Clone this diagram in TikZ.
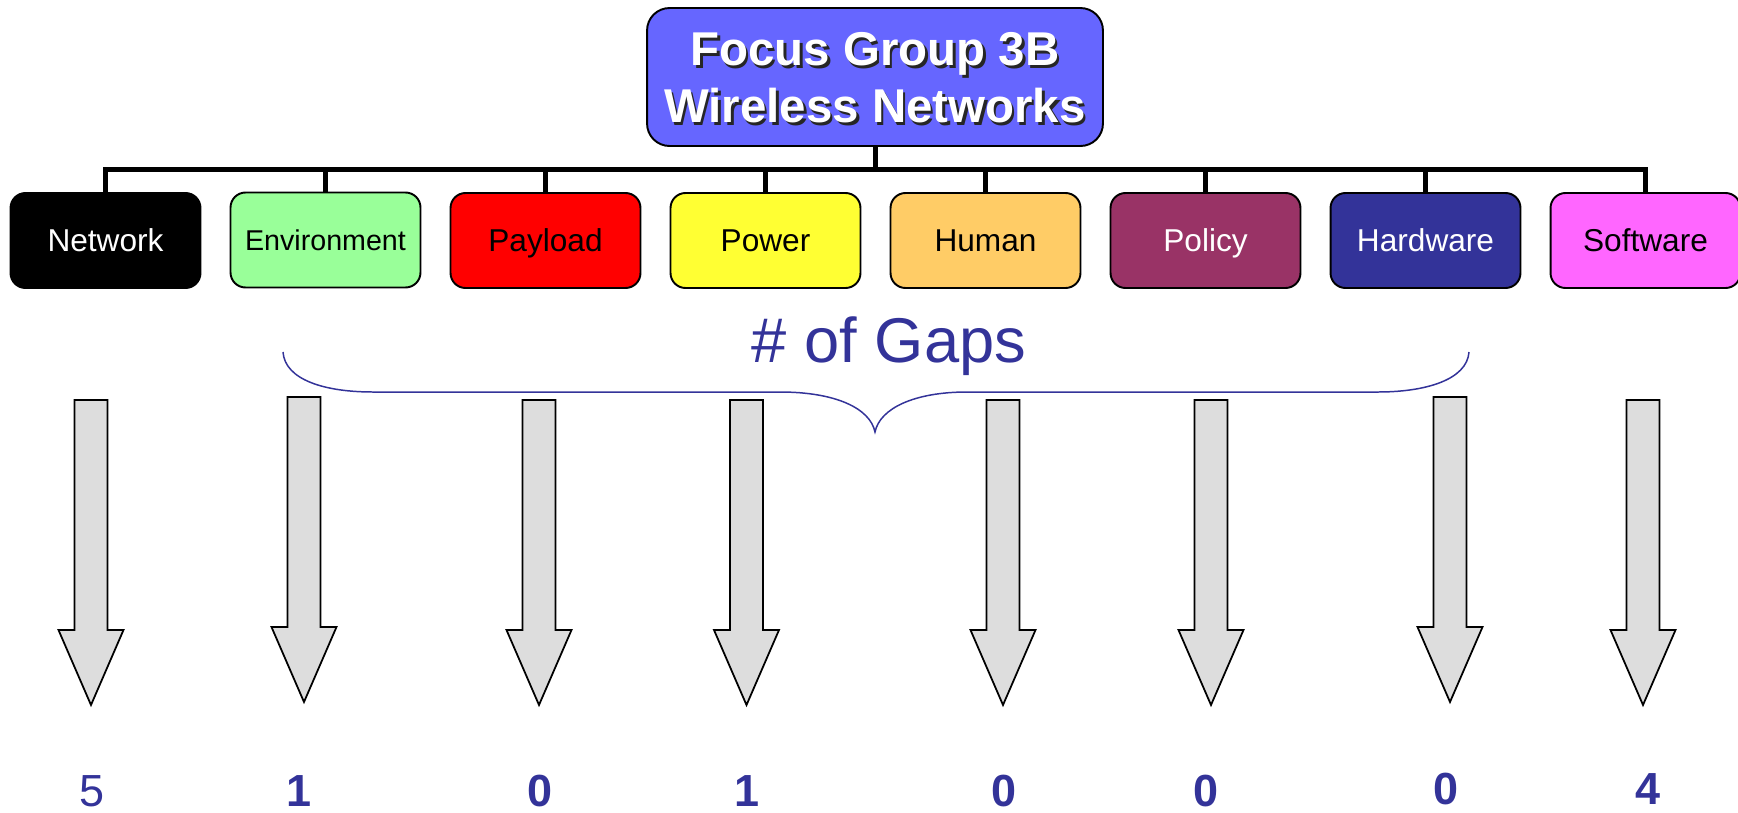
\documentclass[tikz,border=0pt]{standalone}
\usepackage{fontspec}
\setmainfont{Liberation Sans}
\definecolor{titlefill}{HTML}{6666FF}
\definecolor{envgreen}{HTML}{99FF99}
\definecolor{payred}{HTML}{FF0000}
\definecolor{powyellow}{HTML}{FFFF33}
\definecolor{humorange}{HTML}{FFCC66}
\definecolor{polplum}{HTML}{993366}
\definecolor{hardblue}{HTML}{333399}
\definecolor{softpink}{HTML}{FF66FF}
\definecolor{gapblue}{HTML}{333399}
\definecolor{arrowgray}{HTML}{DDDDDD}
\tikzset{
  cat/.style={draw=black, line width=1.1pt, rounded corners=0.3cm,
    minimum width=3.8cm, minimum height=1.9cm, inner sep=0pt,
    text height=12.9pt, text depth=0pt,
    font=\fontsize{18}{21}\selectfont},
  titlebox/.style={draw=black, line width=1.1pt, fill=titlefill,
    rounded corners=0.45cm, minimum width=9.12cm, minimum height=2.76cm, inner sep=0pt},
  titletext/.style={align=center, inner sep=0pt,
    font=\fontsize{27}{32.4}\selectfont\bfseries},
  tree/.style={line width=2.85pt, line join=miter},
  garrow/.style={draw=black, fill=arrowgray, line width=1pt, line join=miter},
  brace/.style={draw=gapblue, line width=0.85pt},
  num/.style={text=gapblue, anchor=base, inner sep=0pt,
    font=\fontsize{25.6}{30}\selectfont\bfseries},
}
\begin{document}
\begin{tikzpicture}[x=0.02cm, y=-0.02cm]
\useasboundingbox (0,0) rectangle (1738,812);

% title
\node[titlebox] (title) at (875,77) {};
\node[titletext, text=black!85] (titleshadow) at (877.5,80.5) {Focus Group 3B\\Wireless Networks};
\node[titletext, text=white] (titletxt) at (875,78) {Focus Group 3B\\Wireless Networks};

% categories
\node[cat, fill=black, text=white] (c0) at (105.5,240.5) {Network};
\node[cat, fill=envgreen, text=black, text height=11.7pt, font=\fontsize{16.3}{19}\selectfont] (c1) at (325.5,240) {Environment};
\node[cat, fill=payred, text=black] (c2) at (545.5,240.5) {Payload};
\node[cat, fill=powyellow, text=black] (c3) at (765.5,240.5) {Power};
\node[cat, fill=humorange, text=black] (c4) at (985.5,240.5) {Human};
\node[cat, fill=polplum, text=white] (c5) at (1205.5,240.5) {Policy};
\node[cat, fill=hardblue, text=white] (c6) at (1425.5,240.5) {Hardware};
\node[cat, fill=softpink, text=black] (c7) at (1645.5,240.5) {Software};

% tree connectors
\coordinate (bar) at (875,169);
\draw[tree] (title.south) -- (bar);
\foreach \i in {0,...,7} \draw[tree] (c\i.north) |- (bar);

% # of Gaps
\node[text=gapblue, anchor=base, inner sep=0pt, font=\fontsize{36}{40}\selectfont] (gaps) at (889,362) {\# of Gaps};

% brace
\coordinate (bl) at (283,352);
\coordinate (br) at (1469,352);
\coordinate (btip) at (875,432);
\draw[brace] (bl) .. controls (285,380) and (325,392) .. (373,392) -- (780,392)
  .. controls (835,392) and (870,408) .. (btip)
  .. controls (880,408) and (915,392) .. (967,392) -- (1378,392)
  .. controls (1425,392) and (1467,380) .. (br);

% block arrows
\foreach \cx/\t in {91/400, 304/397, 539/400, 746.5/400, 1003/400, 1211/400, 1450/397, 1643/400}
  \draw[garrow] (\cx-16.5,\t) -- (\cx+16.5,\t) -- (\cx+16.5,\t+230) -- (\cx+32.5,\t+230)
     -- (\cx,\t+305) -- (\cx-32.5,\t+230) -- (\cx-16.5,\t+230) -- cycle;

% numbers
\node[num, font=\fontsize{25.6}{30}\selectfont] (n1) at (92,806) {5};
\node[num] (n2) at (299.5,806) {1};
\node[num] (n3) at (540,806) {0};
\node[num] (n4) at (747,806) {1};
\node[num] (n5) at (1004,806) {0};
\node[num] (n6) at (1206,806) {0};
\node[num] (n7) at (1446,804) {0};
\node[num] (n8) at (1648,804) {4};
\end{tikzpicture}
\end{document}
